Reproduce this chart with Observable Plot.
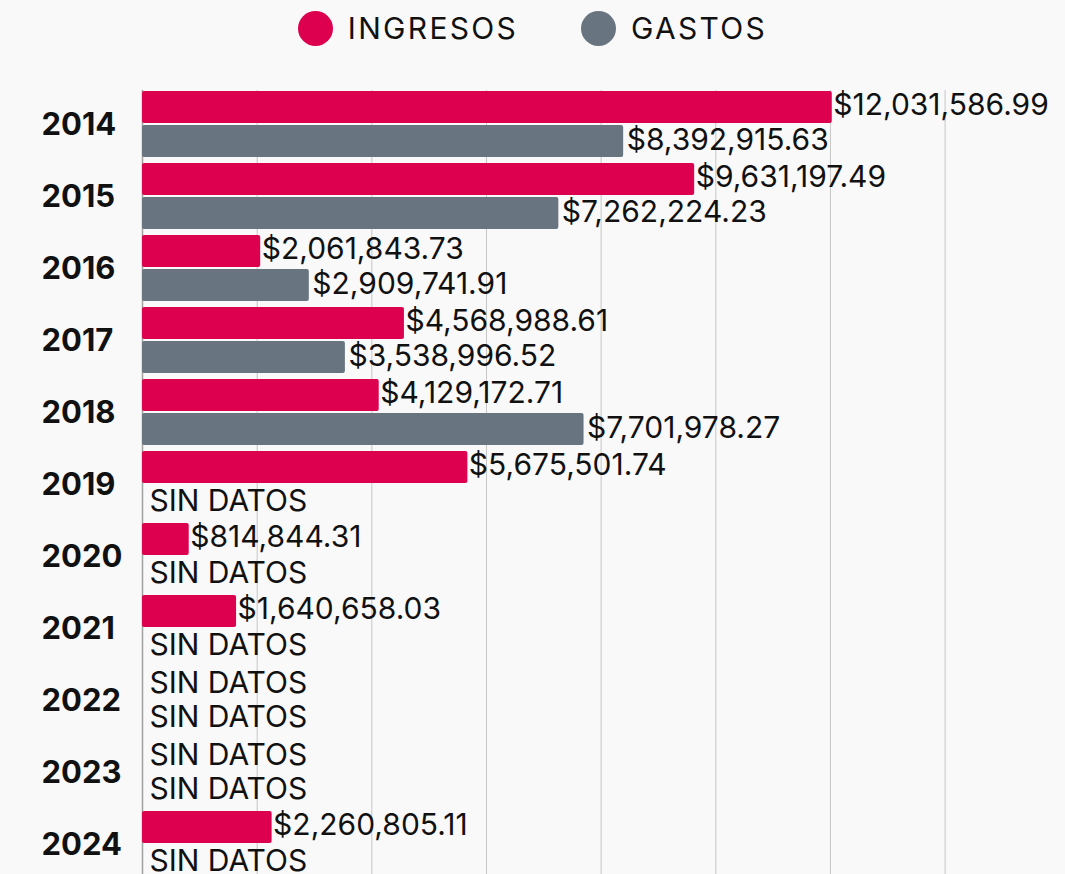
<!DOCTYPE html>
<html>
<head>
<meta charset="utf-8">
<script src="https://cdn.jsdelivr.net/npm/d3@7"></script>
<script src="https://cdn.jsdelivr.net/npm/@observablehq/plot@0.6"></script>
<style>
  html, body { margin: 0; padding: 0; overflow: hidden; background: #f9f9f9; }
  body { width: 1065px; height: 874px; font-family: Inter, "Open Sans", sans-serif; }
  #legend { height: 56px; display: flex; align-items: center; justify-content: center; font-size: 30px; letter-spacing: 2.3px; color: #111; }
  .item { display: flex; align-items: center; }
  .dot { width: 35px; height: 35px; border-radius: 50%; display: inline-block; margin-right: 15px; }
  .item + .item { margin-left: 63px; }
  #chart svg { display: block; }
</style>
</head>
<body>
<div id="legend"></div>
<div id="chart"></div>
<script>
const years = ["2014","2015","2016","2017","2018","2019","2020","2021","2022","2023","2024"];
const ingresos = [12031586.99, 9631197.49, 2061843.73, 4568988.61, 4129172.71, 5675501.74, 814844.31, 1640658.03, null, null, 2260805.11];
const gastos = [8392915.63, 7262224.23, 2909741.91, 3538996.52, 7701978.27, null, null, null, null, null, null];
const seriesNames = ["INGRESOS", "GASTOS"];
const seriesColors = ["#DC004E", "#68747F"];
const gridTicks = [0, 2e6, 4e6, 6e6, 8e6, 10e6, 12e6, 14e6];
const missingText = "SIN DATOS";

const legend = document.getElementById("legend");
seriesNames.forEach((n, i) => {
  const it = document.createElement("div");
  it.className = "item";
  it.innerHTML = `<span class="dot" style="background:${seriesColors[i]}"></span><span>${n}</span>`;
  legend.appendChild(it);
});

const rowsI = years.map((y, i) => ({year: y, value: ingresos[i]}));
const rowsG = years.map((y, i) => ({year: y, value: gastos[i]}));
const fmt = d3.format("$,.2f");
const labelFont = {fontSize: 30, fill: "#111", fontFamily: "Inter, 'Open Sans', sans-serif"};
const has = d => d.value != null;
const miss = d => d.value == null;

const chart = Plot.plot({
  width: 1065,
  height: 832,
  marginLeft: 142,
  marginRight: 0,
  marginTop: 34,
  marginBottom: 10,
  style: {background: "transparent", fontFamily: "Inter, sans-serif"},
  x: {domain: [0, 16.1e6], axis: null},
  y: {domain: years, paddingInner: 0.086, paddingOuter: 0, axis: null},
  marks: [
    Plot.gridX(gridTicks, {stroke: "#c6c6c6", strokeOpacity: 1}),
    Plot.ruleX([0], {stroke: "#a0a0a0", strokeWidth: 1.5}),
    Plot.barX(rowsI.filter(has), {x: "value", y: "year", fill: seriesColors[0], insetBottom: 34, rx: 2}),
    Plot.barX(rowsG.filter(has), {x: "value", y: "year", fill: seriesColors[1], insetTop: 34, rx: 2}),
    Plot.text(rowsI.filter(has), {x: "value", y: "year", text: d => fmt(d.value), textAnchor: "start", dx: 1, dy: -19, ...labelFont}),
    Plot.text(rowsG.filter(has), {x: "value", y: "year", text: d => fmt(d.value), textAnchor: "start", dx: 3, dy: 16, ...labelFont}),
    Plot.text(rowsI.filter(miss), {x: 0, y: "year", text: () => missingText, textAnchor: "start", dx: 7, dy: -17, ...labelFont}),
    Plot.text(rowsG.filter(miss), {x: 0, y: "year", text: () => missingText, textAnchor: "start", dx: 7, dy: 17, ...labelFont}),
    Plot.axisY({anchor: "left", tickSize: 0, tickPadding: 0, textAnchor: "start", dx: -101, dy: 1, fontSize: 31, fontWeight: "bold", fill: "#111", label: null})
  ]
});
document.getElementById("chart").appendChild(chart);
</script>
</body>
</html>
